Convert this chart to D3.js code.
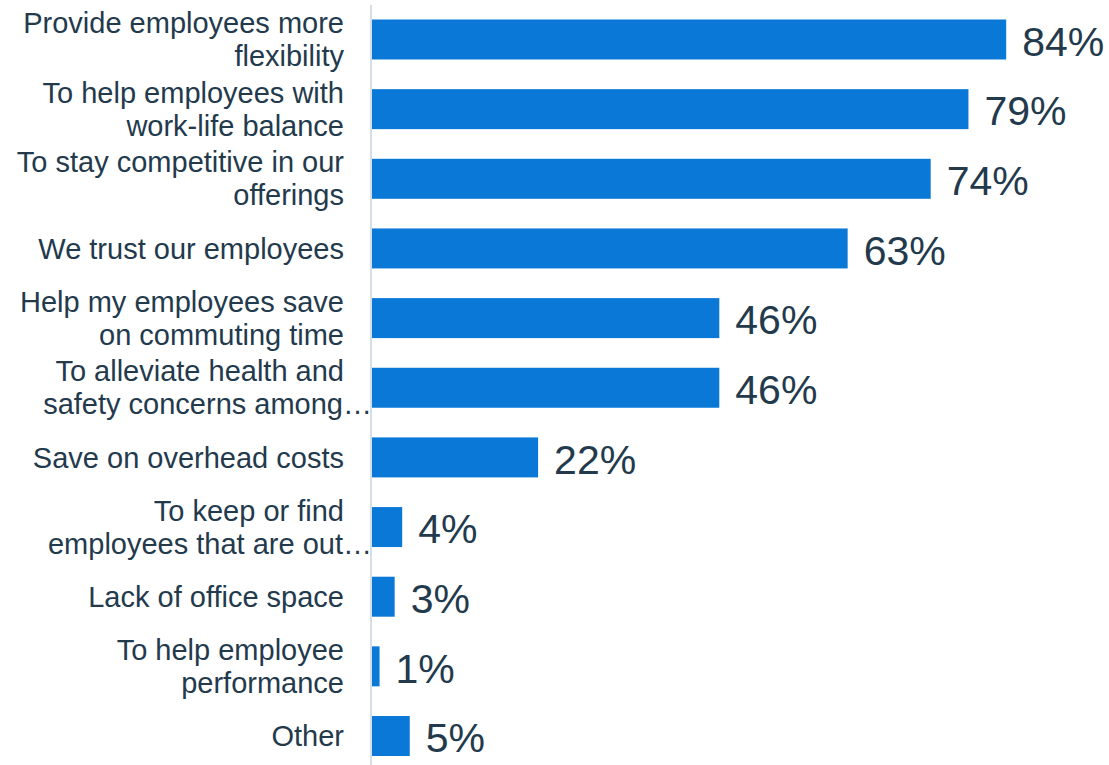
<!DOCTYPE html>
<html>
<head>
<meta charset="utf-8">
<script src="https://cdn.jsdelivr.net/npm/d3@7"></script>
<style>
  html, body { margin: 0; padding: 0; background: #fff; }
  svg { display: block; }
  text { font-family: "Liberation Sans", Arial, sans-serif; }
</style>
</head>
<body>
<svg id="chart" width="1109" height="765"></svg>
<script>
const categories = [
  ["Provide employees more", "flexibility"],
  ["To help employees with", "work-life balance"],
  ["To stay competitive in our", "offerings"],
  ["We trust our employees"],
  ["Help my employees save", "on commuting time"],
  ["To alleviate health and", "safety concerns among…"],
  ["Save on overhead costs"],
  ["To keep or find", "employees that are out…"],
  ["Lack of office space"],
  ["To help employee", "performance"],
  ["Other"]
];
const values = [84, 79, 74, 63, 46, 46, 22, 4, 3, 1, 5];
const valueLabels = ["84%", "79%", "74%", "63%", "46%", "46%", "22%", "4%", "3%", "1%", "5%"];

const svg = d3.select("#chart");
const x0 = 372;
const x = d3.scaleLinear().domain([0, 100]).range([x0, x0 + 755]);
const y = d3.scaleBand().domain(d3.range(values.length))
  .range([19.5, 756]).paddingInner(0.426).paddingOuter(0);

const barColor = "#0a78d7";
const textColor = "#233a4d";

// axis line
svg.append("line")
  .attr("x1", 371).attr("x2", 371)
  .attr("y1", 5).attr("y2", 765)
  .attr("stroke", "#d5dee8").attr("stroke-width", 2);

// bars
svg.selectAll("rect.bar").data(values).join("rect")
  .attr("class", "bar")
  .attr("x", x(0))
  .attr("y", (d, i) => y(i))
  .attr("width", d => x(d) - x(0))
  .attr("height", y.bandwidth())
  .attr("fill", barColor);

// value labels
svg.selectAll("text.val").data(values).join("text")
  .attr("class", "val")
  .attr("x", d => x(d) + 16)
  .attr("y", (d, i) => y(i) + y.bandwidth() / 2 + 1.5)
  .attr("dy", "0.36em")
  .attr("font-size", 41)
  .attr("fill", textColor)
  .text((d, i) => valueLabels[i]);

// category labels
const lineH = 33;
const catG = svg.selectAll("text.cat").data(categories).join("text")
  .attr("class", "cat")
  .attr("font-size", 29)
  .attr("fill", textColor)
  .attr("text-anchor", "end");
catG.each(function(lines, i) {
  const cy = y(i) + y.bandwidth() / 2;
  const n = lines.length;
  d3.select(this).selectAll("tspan").data(lines).join("tspan")
    .attr("x", d => d.endsWith("…") ? 372 : 344)
    .attr("y", (d, j) => cy + (j - (n - 1) / 2) * lineH)
    .attr("dy", "0.35em")
    .text(d => d);
});
</script>
</body>
</html>
